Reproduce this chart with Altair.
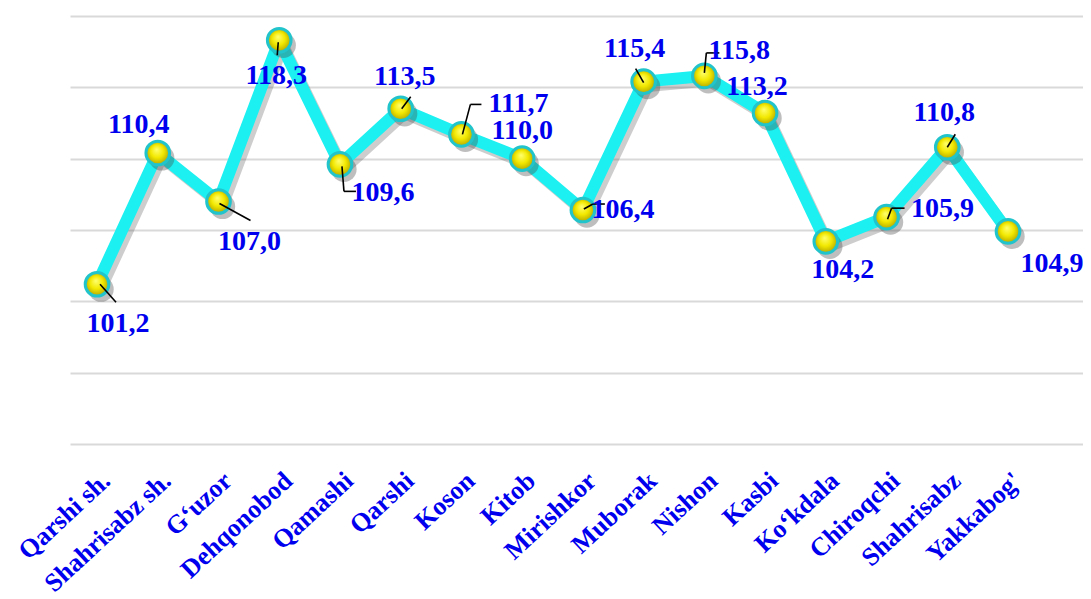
import altair as alt
import pandas as pd

districts = ["Qarshi sh.", "Shahrisabz sh.", "G\u2018uzor", "Dehqonobod", "Qamashi",
             "Qarshi", "Koson", "Kitob", "Mirishkor", "Muborak", "Nishon", "Kasbi",
             "Ko\u2018kdala", "Chiroqchi", "Shahrisabz", "Yakkabog'"]
growth = [101.2, 110.4, 107.0, 118.3, 109.6, 113.5, 111.7, 110.0, 106.4,
          115.4, 115.8, 113.2, 104.2, 105.9, 110.8, 104.9]
grid_values = [90, 95, 100, 105, 110, 115, 120]

df = pd.DataFrame({"district": districts, "growth": growth})
df["label"] = df["growth"].map(lambda v: f"{v:.1f}".replace(".", ","))

# style: label offsets (px) relative to each marker
LABEL_OFFSETS = {
    "Qarshi sh.": (21, 40), "Shahrisabz sh.": (-19, -28), "G\u2018uzor": (31, 41),
    "Dehqonobod": (-3, 36), "Qamashi": (43, 29), "Qarshi": (4, -32),
    "Koson": (57, -30), "Kitob": (0, -28), "Mirishkor": (40, 0),
    "Muborak": (-9, -33), "Nishon": (35, -25), "Kasbi": (-8, -26),
    "Ko\u2018kdala": (17, 29), "Chiroqchi": (56, -8), "Shahrisabz": (-3, -34),
    "Yakkabog'": (44, 33),
}
# style: leader line segments (x0, y0, x1, y1) in px relative to marker
LEADERS = {
    "Qarshi sh.": [(3, 0, 19, 18)],
    "G\u2018uzor": [(1, 2, 32, 19)],
    "Dehqonobod": [(-1, 2, -2, 15)],
    "Qamashi": [(2, 2, 4, 27), (4, 27, 16, 27)],
    "Qarshi": [(1, 0, 10, -12)],
    "Koson": [(1, 0, 9, -30), (9, -30, 20, -30)],
    "Mirishkor": [(1, -1, 10, -6), (10, -6, 22, -6)],
    "Muborak": [(0, 1, -8, -13)],
    "Nishon": [(0, -3, 2, -23), (2, -23, 15, -23)],
    "Chiroqchi": [(1, 2, 5, -9), (5, -9, 18, -9)],
    "Shahrisabz": [(0, 0, 8, -13)],
}

BLUE = "#0000EE"
W, H = 1013, 428

x_enc = alt.X("district:N", sort=districts,
              scale=alt.Scale(type="point", padding=0.84, align=0.265),
              axis=alt.Axis(title=None, labelAngle=-43, labelAlign="right",
                            labelBaseline="top", labelFont="Liberation Serif",
                            labelFontWeight="bold", labelFontSize=26, labelColor=BLUE,
                            labelPadding=23,
                            domain=False, ticks=False, grid=False,
                            labelOverlap=False, labelLimit=0))
y_enc = alt.Y("growth:Q", scale=alt.Scale(domain=[90, 120], nice=False, zero=False),
              axis=alt.Axis(title=None, labels=False, ticks=False, domain=False,
                            grid=True, gridColor="#D9D9D9", gridWidth=2,
                            values=grid_values))

base = alt.Chart(df).encode(x=x_enc, y=y_enc)

shadow_line = base.mark_line(color="#5a5a5a", strokeWidth=11, opacity=0.3,
                             xOffset=4, yOffset=5, strokeJoin="round")
line = base.mark_line(color="#1CF0F0", strokeWidth=12, strokeJoin="round")
marker_shadow = base.mark_circle(size=640, color="#444444", opacity=0.35,
                                 xOffset=4, yOffset=5)
sphere = alt.RadialGradient(
    gradient="radial", x1=0.45, y1=0.35, r1=0.0, x2=0.5, y2=0.5, r2=0.55,
    stops=[alt.GradientStop(offset=0, color="#FFFF70"),
           alt.GradientStop(offset=0.5, color="#F2E800"),
           alt.GradientStop(offset=1, color="#A89C00")])
markers = base.mark_point(shape="circle", size=560, filled=True, fill=sphere,
                          stroke="#22C4CC", strokeWidth=3, opacity=1)

layers = [shadow_line, line, marker_shadow, markers]

for name, segs in LEADERS.items():
    for (a, b, c, d) in segs:
        layers.append(
            alt.Chart(df).transform_filter(alt.datum.district == name)
            .mark_rule(color="black", strokeWidth=1.6, xOffset=a, yOffset=b,
                       x2Offset=c, y2Offset=d)
            .encode(x=x_enc, y=y_enc, x2=alt.X2("district"), y2=alt.Y2("growth"))
        )

for name, (dx, dy) in LABEL_OFFSETS.items():
    layers.append(
        alt.Chart(df).transform_filter(alt.datum.district == name)
        .mark_text(font="Liberation Serif", fontWeight="bold", fontSize=28,
                   color=BLUE, dx=dx, dy=dy, align="center", baseline="middle")
        .encode(x=x_enc, y=y_enc, text="label:N")
    )

chart = alt.layer(*layers).properties(
    width=W, height=H,
    autosize=alt.AutoSizeParams(type="none"),
    padding={"left": 62, "top": 8, "right": 0, "bottom": 150},
).configure_view(stroke=None)

chart.save("out.html", embed_options={"renderer": "svg", "actions": False})
